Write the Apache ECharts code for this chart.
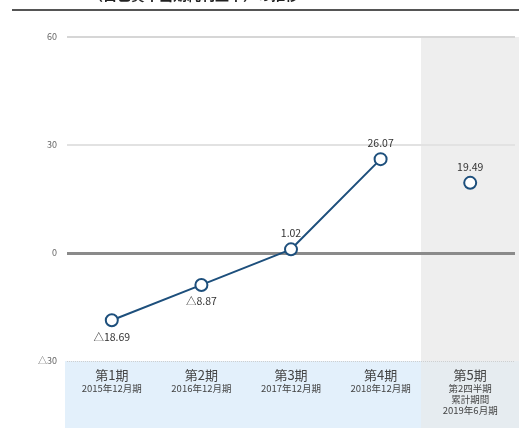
<!DOCTYPE html>
<html><head><meta charset="utf-8">
<script src="https://cdn.jsdelivr.net/npm/echarts@6/dist/echarts.min.js"></script>
<style>html,body{margin:0;padding:0;background:#fff}#c{width:519px;height:428px}</style>
</head><body><div id="c"></div>
<script>
const categories = ['第1期\n{s|2015年12月期}','第2期\n{s|2016年12月期}','第3期\n{s|2017年12月期}','第4期\n{s|2018年12月期}','第5期\n{s|第2四半期\n累計期間\n2019年6月期}'];
const annualValues = [-18.69, -8.87, 1.02, 26.07, '-'];
const interimValues = ['-', '-', '-', '-', 19.49];

const fmt = v => { const n = (v && typeof v === 'object' && !Array.isArray(v)) ? v.value : (Array.isArray(v) ? v[1] : v); return n < 0 ? '△' + Math.abs(n).toFixed(2) : n.toFixed(2); };
const chart = echarts.init(document.getElementById('c'));
const lineColor = '#1d4f7c';
const labelStyle = { show: true, fontSize: 10.5, color: '#333', fontFamily: 'Noto Sans CJK JP',
  formatter: p => fmt(p.value), position: 'top', distance: 4 };
chart.setOption({
  animation: false,
  grid: { left: 67, right: 4, top: 37, bottom: 67 },
  graphic: [
    { type: 'text', left: 60, top: -12, style: { text: 'ROE（自己資本当期純利益率）の推移', font: 'bold 14px "Noto Sans CJK JP"', fill: '#222' } },
    { type: 'text', right: 4, top: -12, style: { text: '（単位：%）', font: '11px "Noto Sans CJK JP"', fill: '#444' } },
    { type: 'rect', shape: { x: 12, y: 9, width: 507, height: 2 }, style: { fill: '#555' } },
    { type: 'rect', z: -10, shape: { x: 421, y: 37, width: 98, height: 324 }, style: { fill: '#eeeeee' } },
    { type: 'rect', z: -10, shape: { x: 65, y: 361, width: 356, height: 67 }, style: { fill: '#e3f0fb' } },
    { type: 'rect', z: -10, shape: { x: 421, y: 361, width: 98, height: 67 }, style: { fill: '#e6ecf0' } }
  ],
  xAxis: {
    type: 'category', data: categories, boundaryGap: true,
    axisLine: { show: false }, axisTick: { show: false },
    axisLabel: { interval: 0, margin: 7, fontSize: 13, color: '#444', lineHeight: 15, fontFamily: 'Noto Sans CJK JP',
      rich: { s: { fontSize: 9.5, color: '#444', lineHeight: 11, fontFamily: 'Noto Sans CJK JP' } } }
  },
  yAxis: {
    type: 'value', min: -30, max: 60, interval: 30,
    axisLine: { show: false }, axisTick: { show: false },
    axisLabel: { fontSize: 9, color: '#666', margin: 10, fontFamily: 'Noto Sans CJK JP',
      formatter: v => v < 0 ? '△' + Math.abs(v) : String(v) },
    splitLine: { lineStyle: { color: ['rgba(0,0,0,0)', '#8a8a8a', '#e2e2e2', '#d6d6d6'], width: 2 } }
  },
  series: [
    { type: 'line', data: annualValues.map(v => (typeof v === 'number' && v < 0) ? { value: v, label: { position: 'bottom' } } : v),
      symbol: 'circle', symbolSize: 12,
      lineStyle: { color: lineColor, width: 2 },
      itemStyle: { color: '#fff', borderColor: lineColor, borderWidth: 2 },
      label: labelStyle,
      markLine: { silent: true, symbol: 'none', label: { show: false },
        data: [
          { yAxis: 0, lineStyle: { color: '#8a8a8a', width: 3, type: 'solid' } },
          { yAxis: -30, lineStyle: { color: '#cfcfcf', width: 1, type: 'dotted' } }
        ] },
      z: 5 },
    { type: 'line', data: interimValues, symbol: 'circle', symbolSize: 12,
      lineStyle: { color: lineColor, width: 2 },
      itemStyle: { color: '#fff', borderColor: lineColor, borderWidth: 2 },
      label: labelStyle, z: 5 }
  ]
});
</script></body></html>
